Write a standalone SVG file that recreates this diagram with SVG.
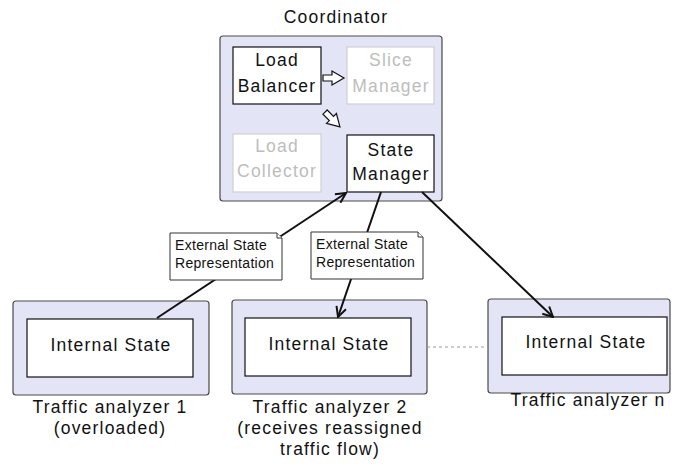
<svg xmlns="http://www.w3.org/2000/svg" width="673" height="466" viewBox="0 0 673 466">
  <style>
    .frame { fill: #e4e4f7; stroke: #4a4a4a; stroke-width: 1.2; }
    .box { fill: #ffffff; stroke: #111111; stroke-width: 1.2; }
    .ghost { fill: #ffffff; stroke: #d0d0d0; stroke-width: 1.2; }
    .lbl { font-family: "Liberation Sans", Arial, sans-serif; font-size: 17.5px; letter-spacing: 1.2px; fill: #111111; text-anchor: middle; }
    .dim { fill: #bdbdbd; }
    .note { fill: #ffffff; stroke: #333333; stroke-width: 1; }
    .ntxt { font-family: "Liberation Sans", Arial, sans-serif; font-size: 14px; letter-spacing: 0.3px; fill: #111111; }
    .flow { fill: #ffffff; stroke: #111111; stroke-width: 1.2; stroke-linejoin: miter; }
    .link { stroke: #111111; stroke-width: 2; fill: none; }
    .dash { stroke: #9a9a9a; stroke-width: 1; stroke-dasharray: 3 3; fill: none; }
  </style>
  <defs>
    <marker id="open" viewBox="0 0 12 12" refX="11" refY="6" markerWidth="12" markerHeight="12" markerUnits="userSpaceOnUse" orient="auto">
      <path d="M1,1 L11,6 L1,11" fill="none" stroke="#111111" stroke-width="2"/>
    </marker>
    <!-- hollow block arrow, centred on the origin, pointing along +x -->
    <path id="blockArrow" d="M-10.5,-3 L-1.5,-3 L-1.5,-7 L10.5,0 L-1.5,7 L-1.5,3 L-10.5,3 Z"/>
  </defs>

  <!-- Coordinator -->
  <g id="coordinator">
    <rect class="frame" x="220" y="36" width="222" height="165" rx="3"/>
    <text class="lbl" x="336" y="23">Coordinator</text>
  </g>
  <g id="load-balancer">
    <rect class="box" x="233" y="47" width="88" height="57"/>
    <text class="lbl" x="277" y="66">Load</text>
    <text class="lbl" x="277" y="92">Balancer</text>
  </g>
  <g id="slice-manager">
    <rect class="ghost" x="347" y="47" width="87" height="57"/>
    <text class="lbl dim" x="391" y="66">Slice</text>
    <text class="lbl dim" x="391" y="92">Manager</text>
  </g>
  <g id="load-collector">
    <rect class="ghost" x="233" y="134" width="88" height="58"/>
    <text class="lbl dim" x="277" y="152">Load</text>
    <text class="lbl dim" x="277" y="177">Collector</text>
  </g>
  <g id="state-manager">
    <rect class="box" x="347" y="135" width="87" height="57"/>
    <text class="lbl" x="391" y="156">State</text>
    <text class="lbl" x="391" y="180">Manager</text>
  </g>
  <g id="internal-flow">
    <use href="#blockArrow" class="flow" transform="translate(333.5,78)"/>
    <use href="#blockArrow" class="flow" transform="translate(332.5,119.5) rotate(45)"/>
  </g>

  <!-- Traffic analyzers -->
  <g id="analyzer-1">
    <rect class="frame" x="13" y="301" width="196" height="94" rx="3"/>
    <rect class="box" x="27" y="319" width="166" height="58"/>
    <text class="lbl" x="111" y="351">Internal State</text>
    <text class="lbl" x="110" y="413">Traffic analyzer 1</text>
    <text class="lbl" x="110" y="434">(overloaded)</text>
  </g>
  <g id="analyzer-2">
    <rect class="frame" x="232" y="300" width="195" height="94" rx="3"/>
    <rect class="box" x="245" y="318" width="166" height="58"/>
    <text class="lbl" x="329" y="350">Internal State</text>
    <text class="lbl" x="330" y="413">Traffic analyzer 2</text>
    <text class="lbl" x="330" y="434">(receives reassigned</text>
    <text class="lbl" x="330" y="455">traffic flow)</text>
  </g>
  <g id="analyzer-n">
    <rect class="frame" x="488" y="299" width="182" height="94" rx="3"/>
    <rect class="box" x="502" y="317" width="165" height="58"/>
    <text class="lbl" x="586" y="348">Internal State</text>
    <text class="lbl" x="588" y="406">Traffic analyzer n</text>
  </g>

  <!-- Connectors -->
  <g id="connectors">
    <line class="link" x1="157" y1="318" x2="346" y2="193" marker-end="url(#open)"/>
    <line class="link" x1="381" y1="192" x2="338" y2="317" marker-end="url(#open)"/>
    <line class="link" x1="422" y1="192" x2="553" y2="317" marker-end="url(#open)"/>
    <line class="dash" x1="427" y1="347" x2="488" y2="347"/>
  </g>

  <!-- Notes -->
  <g id="note-1">
    <path class="note" d="M170,233 L277,233 L282,238 L282,280 L170,280 Z"/>
    <path class="note" d="M277,233 L277,238 L282,238"/>
    <text class="ntxt" x="175" y="250">External State</text>
    <text class="ntxt" x="175" y="268">Representation</text>
  </g>
  <g id="note-2">
    <path class="note" d="M311,232 L418,232 L423,237 L423,279 L311,279 Z"/>
    <path class="note" d="M418,232 L418,237 L423,237"/>
    <text class="ntxt" x="316" y="249">External State</text>
    <text class="ntxt" x="316" y="267">Representation</text>
  </g>
</svg>
